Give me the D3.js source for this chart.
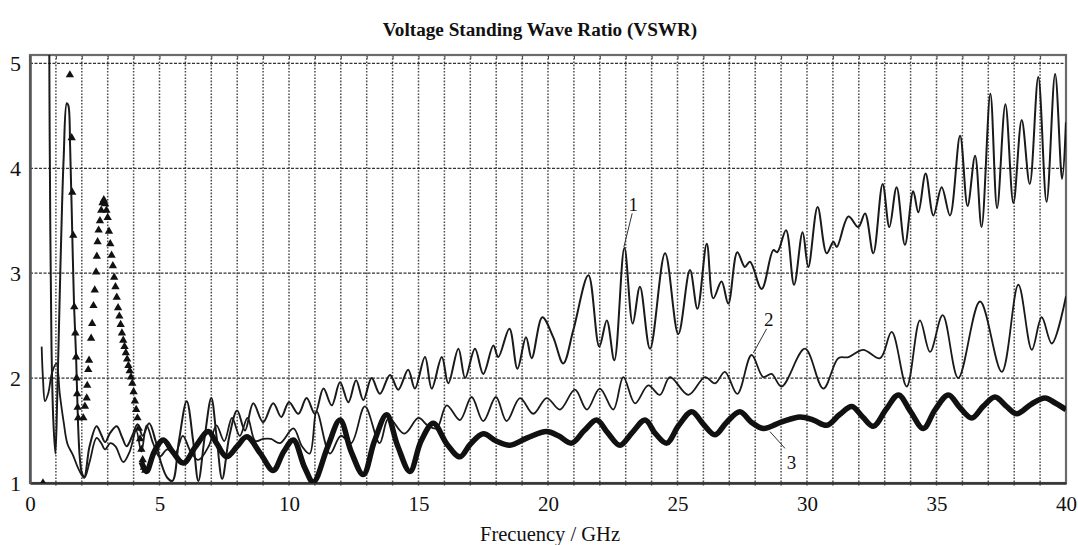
<!DOCTYPE html>
<html>
<head>
<meta charset="utf-8">
<script src="https://cdn.jsdelivr.net/npm/d3@7"></script>
<style>
  body { margin: 0; background: #fff; }
  text { font-family: "Liberation Serif", "Times New Roman", serif; fill: #111; }
</style>
</head>
<body>
<div id="graph"></div>
<script>
const xTicks = [0, 5, 10, 15, 20, 25, 30, 35, 40];
const yTicks = [1, 2, 3, 4, 5];

// curve 1 (thin, upper)
const curve1 = [
  [0.74,5.5],[0.76,4.3],[0.83,2.3],[0.9,1.6],[0.98,1.28],[1.05,1.8],[1.12,2.5],[1.2,3.3],[1.3,4.1],
  [1.42,4.62],[1.48,4.6],[1.55,4.2],[1.62,3.5],[1.7,2.7],[1.78,2.2],[1.85,1.6],[1.92,1.25],[2.0,1.1],
  [2.1,1.06],[2.3,1.35],[2.57,1.54],[2.75,1.46],[2.9,1.39],[3.1,1.48],[3.35,1.54],[3.55,1.44],[3.73,1.35],
  [3.95,1.45],[4.15,1.56],[4.35,1.45],[4.6,1.57],[4.85,1.4],[5.05,1.2],[5.3,1.05],[5.5,1.02],[5.75,1.4],
  [6.05,1.78],[6.3,1.4],[6.5,1.02],[6.75,1.45],[7.0,1.81],[7.2,1.45],[7.42,1.04],[7.7,1.45],[8.0,1.69],
  [8.3,1.5],[8.62,1.76],[9.0,1.58],[9.39,1.76],[9.7,1.63],[10.0,1.77],[10.36,1.66],[10.68,1.81],
  [11.0,1.66],[11.33,1.9],[11.65,1.74],[11.97,1.96],[12.29,1.77],[12.59,1.98],[12.87,1.79],[13.19,2.0],
  [13.51,1.85],[13.9,2.03],[14.22,1.89],[14.6,2.08],[14.86,1.9],[15.25,2.2],[15.51,1.9],[15.9,2.2],
  [16.15,1.95],[16.54,2.28],[16.8,2.0],[17.18,2.28],[17.5,2.04],[17.89,2.31],[18.08,2.2],[18.51,2.47],
  [18.82,2.09],[19.15,2.39],[19.37,2.19],[19.78,2.58],[20.2,2.39],[20.59,2.14],[20.98,2.46],[21.56,2.98],
  [21.98,2.3],[22.27,2.55],[22.56,2.17],[22.95,3.24],[23.27,2.52],[23.55,2.87],[23.94,2.28],[24.52,3.19],
  [25.03,2.42],[25.48,3.03],[25.77,2.66],[26.13,3.28],[26.38,2.76],[26.7,2.92],[26.96,2.71],[27.31,3.2],
  [27.6,3.06],[27.8,3.11],[28.25,2.85],[28.7,3.22],[28.85,3.2],[29.19,3.41],[29.5,2.89],[29.83,3.39],
  [30.05,3.06],[30.41,3.63],[30.76,3.19],[31.02,3.3],[31.15,3.25],[31.6,3.54],[31.98,3.44],[32.24,3.57],
  [32.56,3.19],[32.92,3.85],[33.18,3.44],[33.46,3.82],[33.78,3.27],[34.1,3.78],[34.3,3.58],[34.58,3.95],
  [34.88,3.55],[35.2,3.82],[35.52,3.55],[35.91,4.31],[36.2,3.64],[36.49,4.12],[36.74,3.44],[37.08,4.71],
  [37.34,3.62],[37.66,4.61],[37.97,3.67],[38.29,4.46],[38.6,3.85],[38.93,4.87],[39.25,3.68],[39.58,4.9],
  [39.85,3.9],[40,4.44]
];

// curve 2 (thin, middle)
const curve2 = [
  [0.45,2.3],[0.5,2.0],[0.58,1.78],[0.7,1.85],[0.85,2.05],[1.02,2.14],[1.15,1.85],[1.3,1.58],[1.45,1.37],
  [1.65,1.27],[1.9,1.12],[2.1,1.05],[2.3,1.2],[2.57,1.43],[2.75,1.38],[2.9,1.32],[3.1,1.38],[3.3,1.35],
  [3.6,1.2],[3.85,1.3],[4.1,1.5],[4.3,1.3],[4.5,1.55],[4.75,1.38],[5.0,1.25],[5.3,1.32],[5.6,1.28],
  [5.9,1.45],[6.2,1.3],[6.5,1.22],[6.9,1.35],[7.2,1.55],[7.5,1.4],[7.8,1.62],[8.1,1.45],[8.4,1.62],
  [8.7,1.4],[9.0,1.42],[9.3,1.42],[9.65,1.38],[10.17,1.52],[10.5,1.35],[10.8,1.28],[11.07,1.68],
  [11.58,1.28],[12.0,1.45],[12.4,1.38],[12.93,1.73],[13.5,1.38],[13.85,1.62],[14.45,1.47],[15.0,1.62],
  [15.35,1.55],[15.7,1.52],[16.09,1.74],[16.6,1.6],[17.05,1.82],[17.5,1.59],[17.99,1.82],[18.4,1.59],
  [18.92,1.81],[19.43,1.66],[19.95,1.81],[20.46,1.7],[21.04,1.89],[21.5,1.7],[22.0,1.9],[22.52,1.7],
  [22.91,2.01],[23.36,1.76],[23.87,1.93],[24.32,1.84],[24.71,2.01],[25.42,1.84],[26.06,2.01],[26.45,1.95],
  [26.83,2.06],[27.31,1.85],[27.86,2.22],[28.31,2.01],[28.63,2.04],[29.02,1.92],[29.92,2.28],[30.63,1.9],
  [31.21,2.19],[31.6,2.2],[32.17,2.27],[32.82,2.19],[33.27,2.44],[33.85,1.92],[34.36,2.55],[34.75,2.25],
  [35.24,2.6],[35.84,2.0],[36.68,2.73],[37.52,2.06],[38.16,2.89],[38.68,2.27],[39.06,2.58],[39.45,2.33],
  [40,2.78]
];

// curve 3 (thick, lower)
const curve3 = [
  [4.3,1.2],[4.5,1.11],[4.8,1.3],[5.15,1.41],[5.5,1.3],[5.92,1.19],[6.4,1.35],[6.88,1.49],[7.2,1.38],
  [7.59,1.25],[8.0,1.35],[8.37,1.44],[8.9,1.28],[9.39,1.12],[9.8,1.3],[10.17,1.41],[10.6,1.15],
  [10.94,1.01],[11.5,1.35],[11.97,1.6],[12.4,1.3],[12.87,1.08],[13.3,1.4],[13.77,1.65],[14.2,1.35],
  [14.67,1.11],[15.1,1.4],[15.57,1.57],[16.1,1.37],[16.6,1.25],[17.0,1.37],[17.5,1.47],[18.0,1.4],
  [18.53,1.36],[19.2,1.43],[19.95,1.49],[20.4,1.45],[20.91,1.38],[21.4,1.5],[21.88,1.6],[22.3,1.48],
  [22.78,1.36],[23.25,1.48],[23.75,1.6],[24.15,1.47],[24.58,1.38],[25.05,1.55],[25.55,1.68],[26.0,1.56],
  [26.45,1.46],[26.9,1.58],[27.41,1.68],[27.85,1.58],[28.31,1.52],[29.0,1.58],[29.73,1.63],[30.25,1.6],
  [30.76,1.55],[31.25,1.65],[31.73,1.73],[32.15,1.63],[32.56,1.54],[33.05,1.7],[33.53,1.84],[34.0,1.68],
  [34.49,1.52],[34.95,1.7],[35.46,1.84],[35.9,1.72],[36.36,1.62],[36.8,1.73],[37.26,1.82],[37.7,1.73],
  [38.1,1.66],[38.65,1.75],[39.19,1.81],[39.6,1.76],[40,1.7]
];

// triangle markers at low frequency
const markers = [
  [0.5,1.0],[1.54,4.89],[1.61,4.29],[1.63,3.77],[1.67,3.36],[1.71,2.68],[1.75,2.43],[1.78,2.2],[1.8,2.0],
  [1.82,1.85],[1.84,1.72],[1.86,1.62],
  [2.06,1.62],[2.12,1.73],[2.19,1.81],[2.21,1.93],[2.25,2.08],[2.28,2.17],[2.36,2.38],[2.4,2.52],
  [2.45,2.69],[2.5,2.84],[2.55,3.01],[2.58,3.16],[2.61,3.3],[2.65,3.41],[2.7,3.5],[2.75,3.6],[2.8,3.67],
  [2.85,3.7],[2.9,3.66],[2.95,3.6],[3.0,3.53],[3.05,3.4],[3.1,3.28],[3.15,3.17],[3.2,3.07],[3.25,2.96],
  [3.3,2.87],[3.35,2.77],[3.4,2.67],[3.45,2.59],[3.5,2.51],[3.55,2.43],[3.6,2.36],[3.65,2.3],[3.7,2.24],
  [3.75,2.18],[3.8,2.12],[3.85,2.07],[3.9,2.01],[3.95,1.95],[4.0,1.87],[4.05,1.78],[4.1,1.7],[4.15,1.62],
  [4.2,1.52],[4.25,1.42],[4.3,1.32],[4.35,1.22],[4.4,1.15],[4.45,1.12]
];

// curve labels: text position and leader line ends
const labels = [
  {name: "1", at: [23.29, 3.66], from: [23.25, 3.57], to: [22.93, 3.25]},
  {name: "2", at: [28.52, 2.56], from: [28.44, 2.47], to: [27.93, 2.24]},
  {name: "3", at: [29.4, 1.2], from: [29.15, 1.33], to: [28.57, 1.49]}
];

let width = 1078, height = 545;
let margin = {left: 30, right: 12, top: 55, bottom: 62};

let svg = d3.select('#graph')
  .append('svg')
  .attr('width', width)
  .attr('height', height);

let x = d3.scaleLinear().domain([0, 40]).range([margin.left, width - margin.right]);
let y = d3.scaleLinear().domain([1, 5.08]).range([height - margin.bottom, margin.top]);

svg.append("text")
  .attr("x", 540)
  .attr("y", 36)
  .attr("text-anchor", "middle")
  .style("font-size", "19.2px")
  .style("font-weight", "bold")
  .text("Voltage Standing Wave Ratio (VSWR)");

svg.append("defs").append("clipPath")
  .attr("id", "plot")
  .append("rect")
  .attr("x", x(0)).attr("y", y(5.08))
  .attr("width", x(40) - x(0)).attr("height", y(1) - y(5.08));

// vertical dotted grid every GHz
svg.append("g")
  .selectAll("line")
  .data(d3.range(1, 40))
  .enter().append("line")
  .attr("x1", d => x(d)).attr("x2", d => x(d))
  .attr("y1", y(5.08)).attr("y2", y(1) + 4)
  .attr("stroke", "#4a4a4a")
  .attr("stroke-width", 1.5)
  .attr("stroke-dasharray", "1.6,1.6");

// horizontal dashed grid
svg.append("g")
  .selectAll("line")
  .data([2, 3, 4, 5])
  .enter().append("line")
  .attr("x1", x(0)).attr("x2", x(40))
  .attr("y1", d => y(d)).attr("y2", d => y(d))
  .attr("stroke", "#333")
  .attr("stroke-width", 1.2)
  .attr("stroke-dasharray", "3,1.5");

// top ticks
svg.append("g")
  .attr("transform", "translate(0," + y(5.08) + ")")
  .call(d3.axisBottom(x).tickValues(d3.range(1, 40)).tickSize(4).tickFormat(""))
  .call(g => g.select(".domain").remove())
  .selectAll("line").attr("stroke", "#444");

// frame
svg.append("rect")
  .attr("x", x(0)).attr("y", y(5.08))
  .attr("width", x(40) - x(0)).attr("height", y(1) - y(5.08))
  .attr("fill", "none")
  .attr("stroke", "#6a6a6a")
  .attr("stroke-width", 2.2);

let xAxis = svg.append("g")
  .attr("transform", "translate(0," + y(1) + ")")
  .call(d3.axisBottom(x).tickValues(xTicks).tickSize(0).tickPadding(13));
xAxis.select(".domain").attr("stroke", "#333").attr("stroke-width", 2.5);
xAxis.selectAll("text")
  .style("font-family", "Liberation Serif, serif")
  .style("font-size", "21px")
  .attr("fill", "#111");

let yAxis = svg.append("g")
  .attr("transform", "translate(" + x(0) + ",0)")
  .call(d3.axisLeft(y).tickValues(yTicks).tickSize(0).tickPadding(9).tickFormat(d3.format("d")));
yAxis.select(".domain").attr("stroke", "#555").attr("stroke-width", 2.5);
yAxis.selectAll("text")
  .style("font-family", "Liberation Serif, serif")
  .style("font-size", "22px")
  .attr("dy", "0.34em")
  .attr("fill", "#111");

svg.append("text")
  .attr("x", 550)
  .attr("y", 541)
  .attr("text-anchor", "middle")
  .style("font-size", "20.5px")
  .text("Frecuency / GHz");

let line = d3.line()
  .x(d => x(d[0]))
  .y(d => y(d[1]))
  .curve(d3.curveCatmullRom.alpha(0.5));

let plot = svg.append("g").attr("clip-path", "url(#plot)");

plot.append("path")
  .datum(curve1)
  .attr("d", line)
  .attr("fill", "none")
  .attr("stroke", "#1a1a1a")
  .attr("stroke-width", 2);

plot.append("path")
  .datum(curve2)
  .attr("d", line)
  .attr("fill", "none")
  .attr("stroke", "#1a1a1a")
  .attr("stroke-width", 1.8);

plot.append("path")
  .datum(curve3)
  .attr("d", line)
  .attr("fill", "none")
  .attr("stroke", "#111")
  .attr("stroke-width", 5.5);

plot.append("g")
  .selectAll("path")
  .data(markers)
  .enter().append("path")
  .attr("d", d3.symbol().type(d3.symbolTriangle).size(30))
  .attr("transform", d => "translate(" + x(d[0]) + "," + y(d[1]) + ")")
  .attr("fill", "#111");

let ann = svg.append("g");
ann.selectAll("line")
  .data(labels)
  .enter().append("line")
  .attr("x1", d => x(d.from[0])).attr("y1", d => y(d.from[1]))
  .attr("x2", d => x(d.to[0])).attr("y2", d => y(d.to[1]))
  .attr("stroke", "#333")
  .attr("stroke-width", 1);
ann.selectAll("text")
  .data(labels)
  .enter().append("text")
  .attr("x", d => x(d.at[0]))
  .attr("y", d => y(d.at[1]))
  .attr("text-anchor", "middle")
  .attr("dy", "0.35em")
  .style("font-size", "19px")
  .text(d => d.name);
</script>
</body>
</html>
